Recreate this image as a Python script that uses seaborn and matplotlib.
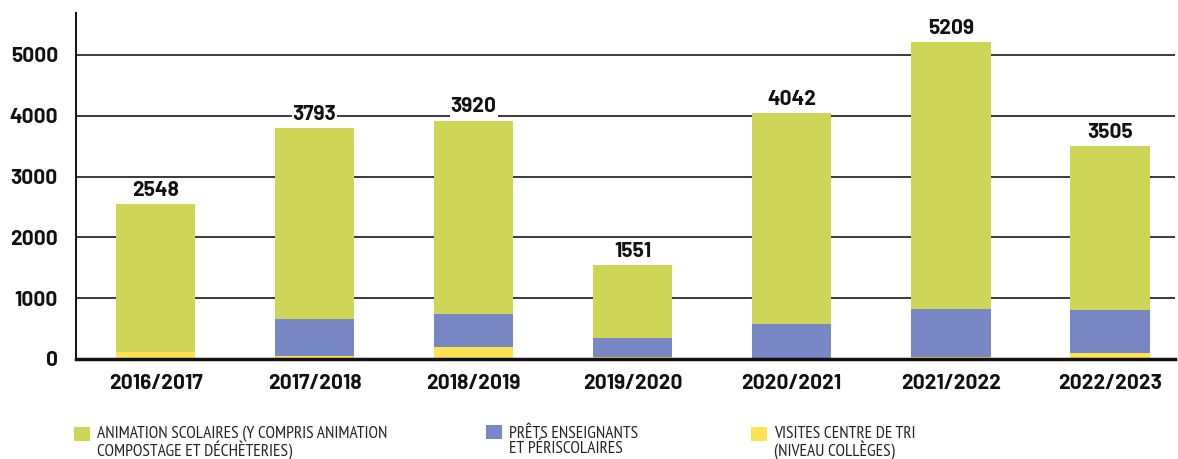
import numpy as np
import pandas as pd
import matplotlib
matplotlib.use("Agg")
import matplotlib.pyplot as plt
import seaborn as sns

annees = ["2016/2017", "2017/2018", "2018/2019", "2019/2020",
          "2020/2021", "2021/2022", "2022/2023"]
totaux = [2548, 3793, 3920, 1551, 4042, 5209, 3505]
visites = [120, 55, 200, 40, 0, 35, 95]
prets = [0, 605, 545, 310, 580, 790, 710]
animation = [t - v - p for t, v, p in zip(totaux, visites, prets)]

series = ["ANIMATION SCOLAIRES (Y COMPRIS ANIMATION\nCOMPOSTAGE ET DÉCHÈTERIES)",
          "PRÊTS ENSEIGNANTS\nET PÉRISCOLAIRES",
          "VISITES CENTRE DE TRI\n(NIVEAU COLLÈGES)"]
couleurs = ["#CFD557", "#7788C4", "#FFE352"]

sns.set_theme(style="white")
plt.rcParams['font.family'] = ['Barlow', 'Roboto', 'DejaVu Sans']
narrow = ['PT Sans Narrow', 'Fira Sans Condensed', 'Liberation Sans Narrow', 'DejaVu Sans']

df = pd.DataFrame({
    "annee": annees,
    "total": totaux,
    "prets_visites": np.array(prets) + np.array(visites),
    "visites": visites,
})

fig = plt.figure(figsize=(11.78, 4.59), dpi=100)
ax = fig.add_axes([76 / 1178, 1 - 359 / 459, (1175 - 76) / 1178, (359 - 13) / 459])

# stacked bars drawn as cumulative heights, largest first
for col, c in zip(["total", "prets_visites", "visites"], couleurs):
    sns.barplot(data=df, x="annee", y=col, color=c, width=0.5,
                saturation=1, linewidth=0, ax=ax, zorder=2)

labs = ax.bar_label(ax.containers[0], labels=[str(t) for t in totaux],
                    padding=3, fontsize=15, fontweight="bold", color="#111111")
for t in labs:
    t.set_bbox(dict(facecolor="white", edgecolor="none", pad=0.8))

ax.set_xlim(-0.5, 6.41)
ax.set_ylim(0, 5690)
ax.set_yticks([0, 1000, 2000, 3000, 4000, 5000])
ax.yaxis.grid(True, color="#3a3a3a", linewidth=1.4, zorder=0)
ax.set_axisbelow(True)
ax.set_xlabel("")
ax.set_ylabel("")
for s in ["top", "right"]:
    ax.spines[s].set_visible(False)
ax.spines["left"].set_color("#111111")
ax.spines["left"].set_linewidth(1.4)
ax.spines["bottom"].set_color("#111111")
ax.spines["bottom"].set_linewidth(2.5)
ax.spines["bottom"].set_zorder(3)
ax.tick_params(axis="y", length=0, pad=13, labelsize=15)
ax.tick_params(axis="x", length=0, pad=11, labelsize=15)
for lab in ax.get_xticklabels() + ax.get_yticklabels():
    lab.set_fontweight("bold")
    lab.set_color("#111111")

# legend: one entry per column, square aligned with the first line
handles = [ax.containers[i].patches[0] for i in range(3)]
positions = [74 / 1178, 486 / 1178, 751 / 1178]
for h, lab, x in zip(handles, series, positions):
    leg = fig.legend([h], [lab], loc="upper left", bbox_to_anchor=(x, 1 - 426 / 459),
                     frameon=False, handlelength=0.9, handleheight=0.84,
                     handletextpad=0.4, borderaxespad=0, borderpad=0,
                     prop={"family": narrow, "size": 12.5})
    for t in leg.get_texts():
        t.set_color("#222222")
        t.set_linespacing(0.9)
    sq = leg.legend_handles[0]
    sq.set_y(sq.get_y() + 6.5)

fig.savefig("out.png", dpi=100)
